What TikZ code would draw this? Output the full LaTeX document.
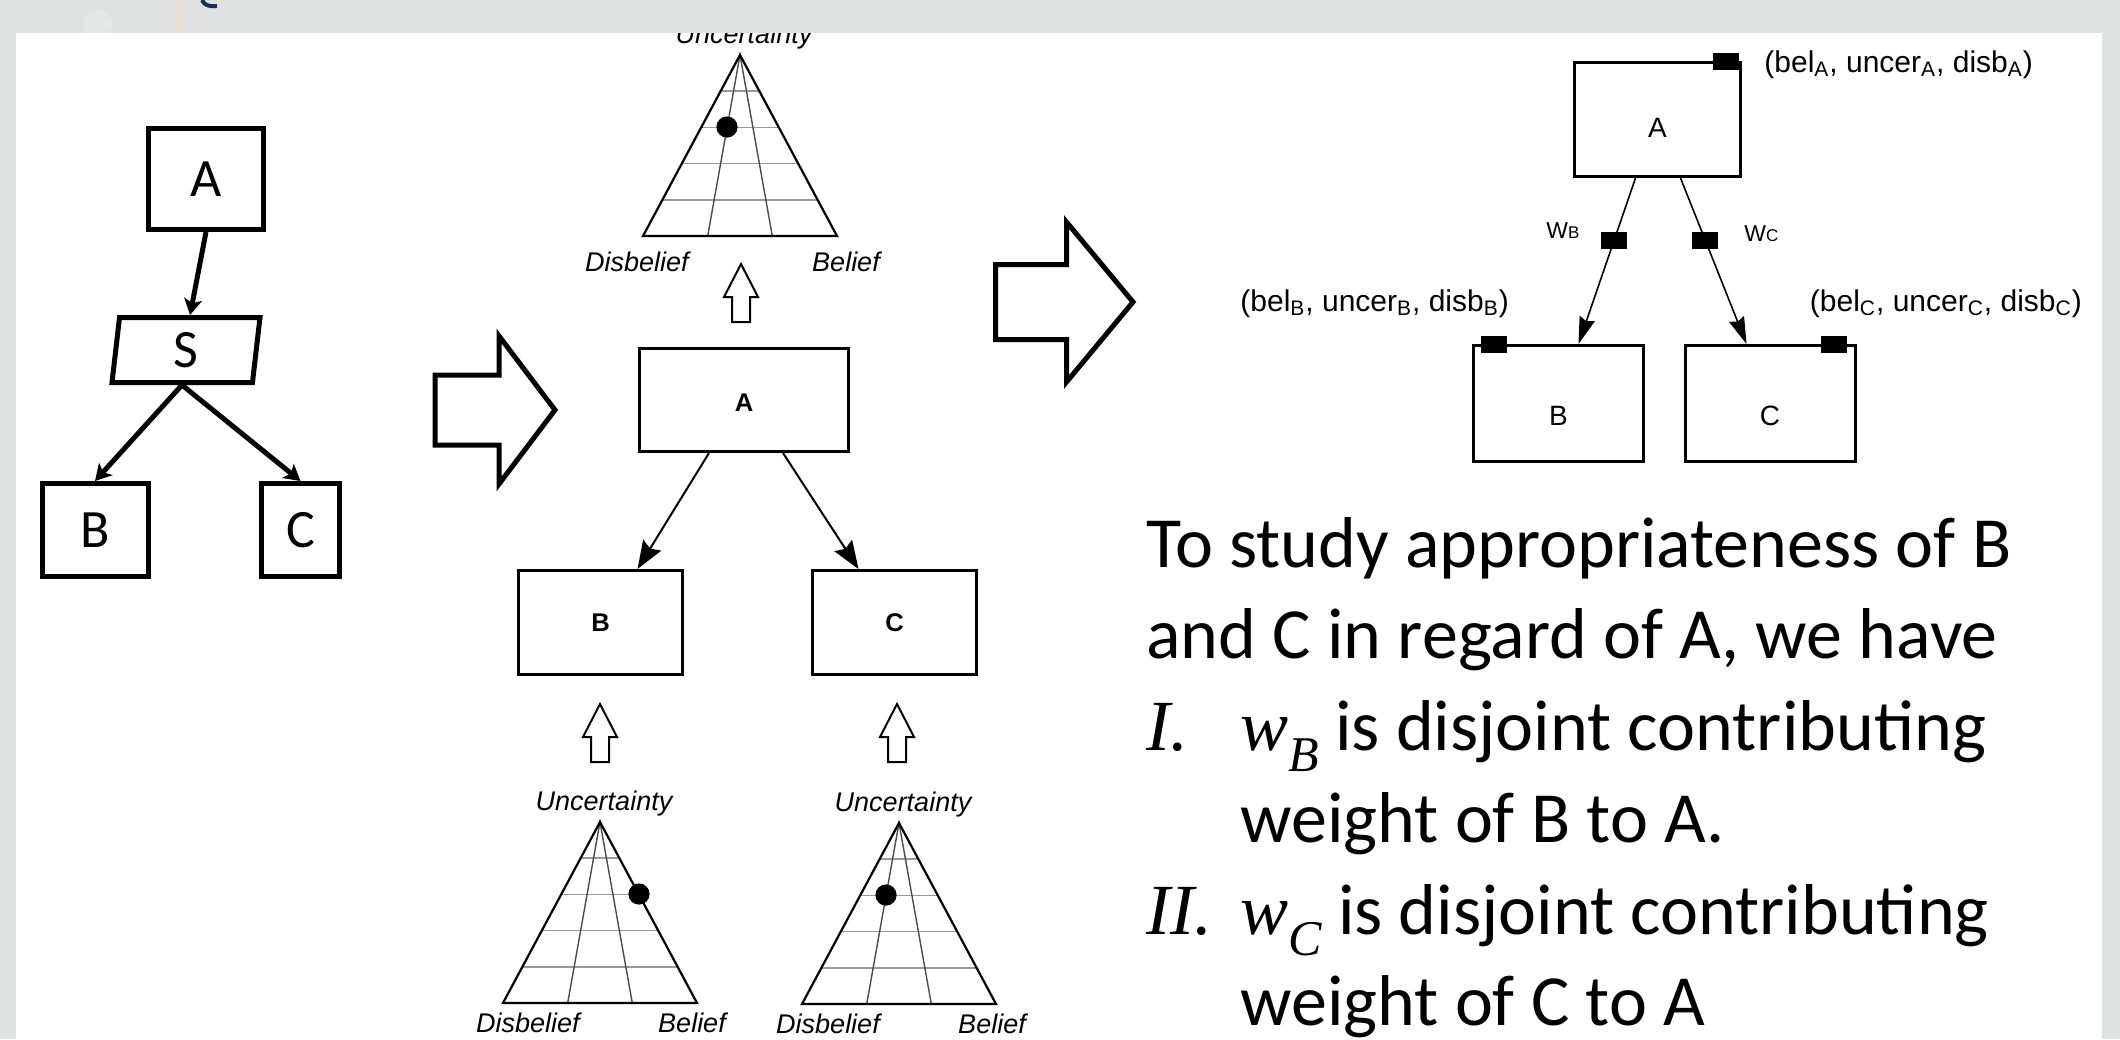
\documentclass[tikz,border=0pt]{standalone}
\usepackage{fontspec}
\setmainfont{Carlito}
\newfontfamily\helv{Liberation Sans}
\newfontfamily\serifit{Liberation Serif}
\usetikzlibrary{arrows.meta,shapes.geometric}
\definecolor{slidegray}{RGB}{223,226,224}
\definecolor{titleblue}{RGB}{23,50,90}
\definecolor{tanline}{RGB}{236,224,200}
\newcommand{\wsub}[1]{{\serifit\itshape w\raisebox{-0.3em}{\fontsize{25}{25}\selectfont #1}}}

\begin{document}
\begin{tikzpicture}[x=0.5pt, y=-0.5pt,
	lbox/.style={draw, line width=2.5pt, inner sep=0pt, font=\fontsize{27}{27}\selectfont},
	larr/.style={line width=2.5pt, -{Stealth[length=8pt, width=9pt, inset=2pt]}},
	hollow/.style={draw, line width=2.5pt, fill=white},
	uparr/.style={draw, line width=1pt, fill=white},
	mbox/.style={draw, line width=1.3pt, inner sep=0pt, font=\helv\bfseries\fontsize{12.8}{13}\selectfont},
	marr/.style={line width=1pt, -{Stealth[length=14pt, width=10.5pt, inset=2pt]}},
	tri/.style={line width=1.1pt, line join=miter},
	hgrid/.style={line width=0.8pt, black!40},
	rgrid/.style={line width=0.7pt, black!70},
	tlabel/.style={anchor=base, inner sep=0pt, font=\helv\itshape\fontsize{13.5}{14}\selectfont},
	rbox/.style={draw, line width=1.5pt, inner sep=0pt, font=\helv\fontsize{14}{14}\selectfont},
	rarr/.style={line width=0.8pt, -{Stealth[length=13.5pt, width=8pt, inset=1.5pt]}},
	marker/.style={fill=black, inner sep=0pt, minimum width=13pt, minimum height=8.5pt},
	tuple/.style={anchor=base west, inner sep=0pt, font=\helv\fontsize{15}{15}\selectfont},
	wlab/.style={anchor=base west, inner sep=0pt, font=\helv\fontsize{11.5}{12}\selectfont},
	txt/.style={anchor=base west, inner sep=0pt, font=\fontsize{36}{44}\selectfont}]
	\useasboundingbox (0,0) rectangle (2120,1039);
	\fill[slidegray] (0,0) rectangle (2120,1039);
	\fill[white] (16,33) rectangle (2102,1039);

	% left: A -> S -> B, C
	\node[lbox, minimum width=57.5pt, minimum height=50.5pt] (a) at (206,179) {A};
	\node[trapezium, trapezium left angle=78, trapezium right angle=102, trapezium stretches body,
		draw, line width=2.5pt, inner sep=0pt, minimum width=74pt, minimum height=32.5pt,
		font=\fontsize{27}{27}\selectfont] (s) at (186,350) {S};
	\node[lbox, minimum width=53pt, minimum height=46.5pt] (b) at (95,530) {B};
	\node[lbox, minimum width=39pt, minimum height=46.5pt] (c) at (300.5,530) {C};

	\draw[larr] (a.south) to (s.top side);
	\draw[larr] (s.bottom side) to (b.north);
	\draw[larr] (s.bottom side) to (c.north);

	% big hollow arrows
	\draw[hollow] (435,375) -- (499,375) -- (499,336) -- (555,410) -- (499,484) -- (499,445) -- (435,445) -- cycle;
	\draw[hollow] (995.5,264.5) -- (1066.5,264.5) -- (1066.5,222) -- (1133,302) -- (1066.5,382) -- (1066.5,339.5) -- (995.5,339.5) -- cycle;

	% middle: opinion triangles
	\foreach \ax/\ay/\px/\py/\dx/\bx/\ly in {740/55/727/127/637/846/271, 600/822/639/894/528/692/1032, 899/823/886/895/828/992/1033}
	{
		\foreach \t in {0.2,0.4,0.6,0.8}
			\draw[hgrid] (\ax-97*\t,\ay+181*\t) -- (\ax+97*\t,\ay+181*\t);
		\draw[rgrid] (\ax-32.3,\ay+181) -- (\ax,\ay) -- (\ax+32.3,\ay+181);
		\draw[tri] (\ax,\ay) -- ++(97,181) -- ++(-194,0) -- cycle;
		\fill (\px,\py) circle (5.3pt);
		\node[tlabel] at (\ax+4,\ay-12) {Uncertainty};
		\node[tlabel] at (\dx,\ly) {Disbelief};
		\node[tlabel] at (\bx,\ly) {Belief};
	}
	\foreach \ux/\uy in {741/264, 600/704, 897/704}
		\draw[uparr] (\ux,\uy) -- ++(17,33) -- ++(-8,0) -- ++(0,25) -- ++(-18,0) -- ++(0,-25) -- ++(-8,0) -- cycle;

	\node[mbox, minimum width=104.7pt, minimum height=51.7pt, text height=11.7pt] (ma) at (744,400) {A};
	\node[mbox, minimum width=82.2pt, minimum height=52.2pt] (mb) at (600.5,622.5) {B};
	\node[mbox, minimum width=82.2pt, minimum height=52.2pt] (mc) at (894.5,622.5) {C};

	\draw[marr] ([xshift=-17.5pt]ma.south) to ([xshift=18.5pt]mb.north);
	\draw[marr] ([xshift=19.5pt]ma.south) to ([xshift=-18pt]mc.north);

	% right: weighted tree
	\node[rbox, minimum width=83pt, minimum height=57pt, text height=17.5pt] (ra) at (1657.5,119.5) {A};
	\node[rbox, minimum width=85pt, minimum height=58pt, text height=22pt] (rb) at (1558.5,403.5) {B};
	\node[rbox, minimum width=85pt, minimum height=58pt, text height=22pt] (rc) at (1770,403.5) {C};

	\node[marker] (qa) at ([xshift=-8pt]ra.north east) {};
	\node[marker] (qb) at ([xshift=10.75pt]rb.north west) {};
	\node[marker] (qc) at ([xshift=-11.5pt]rc.north east) {};

	\draw[rarr] ([xshift=-11pt]ra.south) -- node[marker, pos=0.376] (wb) {} ([xshift=10pt]rb.north);
	\draw[rarr] ([xshift=11.5pt]ra.south) -- node[marker, pos=0.376] (wc) {} ([xshift=-11.75pt]rc.north);

	\node[wlab] (wbl) at (1546,238) {W{\fontsize{8.5}{9}\selectfont B}};
	\node[wlab] (wcl) at (1744,241) {W{\fontsize{8.5}{9}\selectfont C}};

	\node[tuple] (ta) at (1764,72) {(bel\textsubscript{A}, uncer\textsubscript{A}, disb\textsubscript{A})};
	\node[tuple] (tb) at (1240,311) {(bel\textsubscript{B}, uncer\textsubscript{B}, disb\textsubscript{B})};
	\node[tuple] (tc) at (1809.5,311) {(bel\textsubscript{C}, uncer\textsubscript{C}, disb\textsubscript{C})};

	% text
	\node[txt] (l1) at (1146,567) {To study appropriateness of B};
	\node[txt] (l2) at (1146,658) {and C in regard of A, we have};
	\node[txt] (l3) at (1146,750) {\makebox[47pt][l]{\serifit\itshape I.}\wsub{B} is disjoint contributing};
	\node[txt] (l4) at (1240,842) {weight of B to A.};
	\node[txt] (l5) at (1146,934) {\makebox[47pt][l]{\serifit\itshape II.}\wsub{C} is disjoint contributing};
	\node[txt] (l6) at (1240,1025) {weight of C to A};

	% slide header strip
	\fill[slidegray] (0,0) rectangle (2120,33);
	\fill[white, opacity=0.2] (98,24) circle (7pt);
	\fill[tanline] (177,0) rectangle (182,33);
	\draw[titleblue, line width=2pt] (202,0) .. controls (204,5) and (209,7) .. (217,6);
\end{tikzpicture}
\end{document}
